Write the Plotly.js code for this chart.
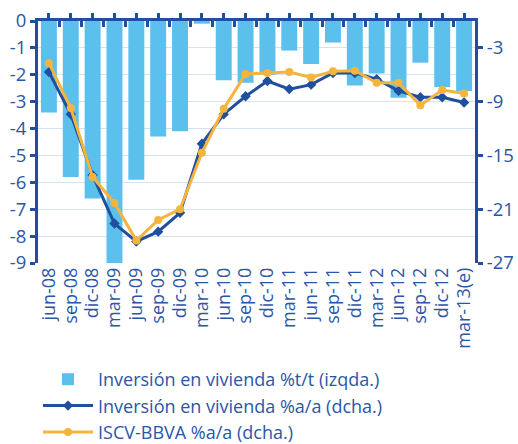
<!DOCTYPE html>
<html>
<head>
<meta charset="utf-8">
<script src="https://cdn.plot.ly/plotly-3.0.1.min.js"></script>
<style>html,body{margin:0;padding:0;background:#fff;}#chart{width:518px;height:444px;}</style>
</head>
<body>
<div id="chart"></div>
<script>
const categories = ['jun-08','sep-08','dic-08','mar-09','jun-09','sep-09','dic-09','mar-10','jun-10','sep-10','dic-10','mar-11','jun-11','sep-11','dic-11','mar-12','jun-12','sep-12','dic-12','mar-13(e)'];
const inversionTT = [-3.4,-5.8,-6.6,-9.0,-5.9,-4.3,-4.1,-0.1,-2.2,-2.3,-2.0,-1.1,-1.6,-0.8,-2.4,-1.95,-2.85,-1.55,-2.45,-2.6];
const inversionAA = [-5.7,-10.4,-17.2,-22.6,-24.6,-23.5,-21.4,-13.7,-10.4,-8.4,-6.7,-7.6,-7.1,-5.8,-5.8,-6.5,-7.8,-8.5,-8.5,-9.1];
const iscvAA = [-4.7,-9.7,-17.4,-20.3,-24.5,-22.2,-21.0,-14.7,-9.8,-5.9,-5.8,-5.7,-6.3,-5.6,-5.55,-6.9,-6.9,-9.4,-7.7,-8.1];
const leftTicks = [0,-1,-2,-3,-4,-5,-6,-7,-8,-9];
const rightTicks = [-3,-9,-15,-21,-27];
const seriesNames = ['Inversión en vivienda %t/t (izqda.)','Inversión en vivienda %a/a (dcha.)','ISCV-BBVA %a/a (dcha.)'];

const DARK = '#1f4f9e';
const LIGHT = '#5cc0ec';
const ORANGE = '#f5b43c';
const TXT = '#2b56a6';
const GRID = '#d3e3f1';
const FONT = 'Open Sans, sans-serif';

const traces = [
  {type:'bar', x:categories, y:inversionTT, name:seriesNames[0], marker:{color:LIGHT}, xaxis:'x', yaxis:'y'},
  {type:'scatter', mode:'lines+markers', x:categories, y:inversionAA, name:seriesNames[1], xaxis:'x', yaxis:'y2',
   line:{color:DARK, width:3}, marker:{color:DARK, size:8, symbol:'diamond'}},
  {type:'scatter', mode:'lines+markers', x:categories, y:iscvAA, name:seriesNames[2], xaxis:'x', yaxis:'y2',
   line:{color:ORANGE, width:3}, marker:{color:ORANGE, size:8, symbol:'circle'}},
  {type:'scatter', x:categories, y:inversionTT, xaxis:'x2', yaxis:'y', showlegend:false, hoverinfo:'skip', mode:'none'},
  {type:'scatter', x:categories, y:inversionTT, xaxis:'x3', yaxis:'y', showlegend:false, hoverinfo:'skip', mode:'none'}
];

const layout = {
  width:518, height:444,
  margin:{l:38, r:43, t:21, b:181, autoexpand:false},
  paper_bgcolor:'#fff', plot_bgcolor:'#fff',
  font:{family:FONT, color:TXT, size:16},
  bargap:0.27,
  showlegend:true,
  legend:{x:0.0, y:-0.405, xanchor:'left', yanchor:'top', orientation:'v', maxheight:400,
          font:{family:FONT, size:18, color:TXT}, tracegroupgap:0, itemwidth:50, bgcolor:'rgba(0,0,0,0)'},
  xaxis:{type:'category', categoryarray:categories, tickmode:'array', tickvals:categories, ticktext:categories,
         tickangle:-90, showline:false, showgrid:false, ticks:'',
         tickfont:{family:FONT, size:18, color:TXT}, zeroline:false, range:[-0.5,19.5], automargin:false},
  xaxis2:{type:'category', overlaying:'x', side:'top', anchor:'y', matches:'x', showticklabels:false, showgrid:false,
          showline:true, linecolor:DARK, linewidth:3, ticks:'outside', tickson:'labels', ticklen:5, tickwidth:3, tickcolor:DARK,
          tickmode:'array', tickvals:categories, layer:'above traces'},
  xaxis3:{type:'category', overlaying:'x', side:'top', anchor:'y', matches:'x', showticklabels:false, showgrid:false,
          showline:false, ticks:'inside', tickson:'boundaries', ticklen:6, tickwidth:3, tickcolor:DARK,
          tickmode:'array', tickvals:categories, layer:'above traces'},
  yaxis:{range:[-9,0], tickvals:leftTicks, ticktext:leftTicks.map(String), showline:true, linecolor:DARK, linewidth:3,
         ticks:'outside', ticklen:5, tickwidth:3, tickcolor:DARK, showgrid:true, gridcolor:GRID, gridwidth:1,
         zeroline:false, tickfont:{family:FONT, size:18.5, color:TXT}, automargin:false},
  yaxis2:{range:[-27,0], overlaying:'y', side:'right', tickvals:rightTicks, ticktext:rightTicks.map(String),
          showline:true, linecolor:DARK, linewidth:3, ticks:'outside', ticklen:5, tickwidth:3, tickcolor:DARK,
          showgrid:false, zeroline:false, tickfont:{family:FONT, size:18.5, color:TXT}, automargin:false}
};

Plotly.newPlot('chart', traces, layout, {staticPlot:true, displayModeBar:false});
</script>
</body>
</html>
